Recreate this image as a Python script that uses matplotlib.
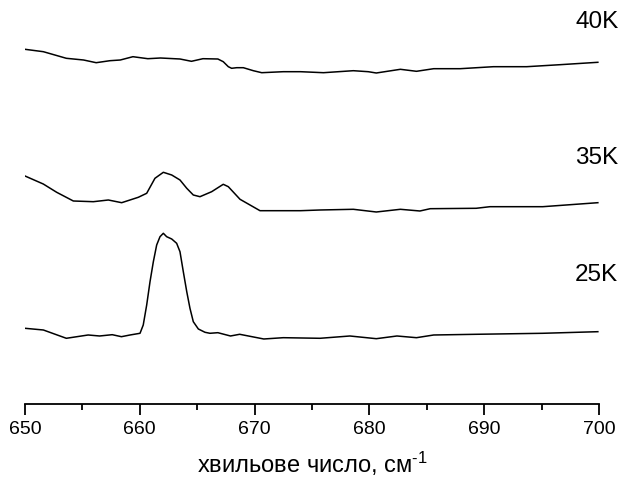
import matplotlib.pyplot as plt
import numpy as np

plt.rcParams['font.family'] = ['Liberation Sans', 'DejaVu Sans']
plt.rcParams['mathtext.fontset'] = 'custom'
plt.rcParams['mathtext.rm'] = 'Liberation Sans'
plt.rcParams['mathtext.default'] = 'regular'

# spectra, wavenumber (cm^-1) vs intensity (arb. units, already offset)
wn_40 = [650.0, 651.6, 653.6, 655.1, 656.2, 657.4, 658.3, 659.4, 660.7, 661.8,
         663.5, 664.5, 665.5, 666.8, 667.27, 667.71, 668.0, 668.44, 669.02, 669.89,
         670.62, 672.5, 674.0, 676.0, 678.6, 679.9, 680.6, 682.7, 684.1, 685.6,
         687.9, 690.8, 693.7, 696.6, 699.9]
i_40 = [3.547, 3.523, 3.457, 3.44, 3.413, 3.433, 3.44, 3.473, 3.453, 3.46,
        3.45, 3.427, 3.453, 3.45, 3.423, 3.373, 3.357, 3.363, 3.363, 3.333,
        3.313, 3.323, 3.323, 3.313, 3.333, 3.323, 3.31, 3.347, 3.327, 3.353,
        3.353, 3.373, 3.373, 3.393, 3.417]

wn_35 = [650.0, 651.59, 652.76, 654.21, 655.95, 657.26, 658.42, 659.87, 660.6, 661.32,
         662.05, 662.78, 663.5, 664.09, 664.66, 665.24, 666.26, 667.27, 667.71, 668.73,
         670.47, 674.0, 675.7, 678.6, 680.6, 682.7, 684.4, 685.3, 689.3, 690.5,
         695.1, 699.9]
i_35 = [2.28, 2.2, 2.117, 2.03, 2.023, 2.04, 2.013, 2.067, 2.107, 2.257,
        2.317, 2.29, 2.24, 2.157, 2.09, 2.073, 2.123, 2.197, 2.173, 2.047,
        1.933, 1.933, 1.94, 1.947, 1.92, 1.947, 1.93, 1.953, 1.957, 1.973,
        1.973, 2.013]

wn_25 = [650.0, 651.6, 653.6, 655.5, 656.5, 657.6, 658.4, 659.15, 660.02, 660.3,
         660.6, 660.89, 661.18, 661.47, 661.76, 662.05, 662.34, 662.78, 663.21, 663.5,
         663.79, 664.09, 664.37, 664.66, 665.1, 665.68, 666.11, 666.8, 667.9, 668.7,
         670.8, 672.5, 675.7, 678.3, 680.6, 682.4, 684.1, 685.6, 689.3, 695.1,
         699.9]
i_25 = [0.757, 0.74, 0.657, 0.69, 0.68, 0.693, 0.673, 0.69, 0.707, 0.79,
        0.99, 1.223, 1.423, 1.59, 1.673, 1.707, 1.673, 1.65, 1.607, 1.523,
        1.323, 1.123, 0.957, 0.823, 0.75, 0.717, 0.707, 0.713, 0.68, 0.697,
        0.65, 0.663, 0.657, 0.68, 0.653, 0.68, 0.663, 0.69, 0.697, 0.707,
        0.723]

labels = ["40K", "35K", "25K"]
label_y = [3.82, 2.46, 1.29]

fig = plt.figure(figsize=(6.25, 4.79), dpi=100)
ax = fig.add_axes([0.04, 0.1566, 0.9184, 0.8434])

for wn, inten in [(wn_40, i_40), (wn_35, i_35), (wn_25, i_25)]:
    ax.plot(wn, inten, color='black', lw=1.1, solid_joinstyle='round')

for lab, y in zip(labels, label_y):
    ax.text(699.8, y, lab, fontsize=17.5, ha='center', va='center', clip_on=False)

ax.set_xlim(650, 700)
ax.set_ylim(0, 4.04)
ax.set_xticks(np.arange(650, 701, 10))
ax.set_xticks(np.arange(655, 700, 10), minor=True)
ax.tick_params(axis='x', which='major', length=8, width=1.3, labelsize=14, pad=4)
ax.tick_params(axis='x', which='minor', length=4, width=1.3)
ax.set_yticks([])
for s in ['top', 'right', 'left']:
    ax.spines[s].set_visible(False)
ax.spines['bottom'].set_linewidth(1.3)
ax.set_xlabel('хвильове число, см$^{\\text{-}1}$', fontsize=17, labelpad=9)

plt.savefig('out.png', dpi=100)
